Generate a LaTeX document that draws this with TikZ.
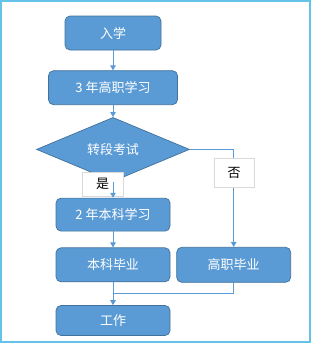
\documentclass[tikz,border=0pt]{standalone}
\usepackage{fontspec}
\newfontfamily\cjk{Noto Sans CJK SC}
\usetikzlibrary{arrows.meta,positioning,calc,shapes.geometric}
\definecolor{boxfill}{HTML}{5B9BD5}
\definecolor{boxedge}{HTML}{41719C}
\definecolor{framec}{RGB}{100,195,230}
\begin{document}
\begin{tikzpicture}[x=1pt,y=1pt,
      font=\cjk\fontsize{13}{15}\selectfont,
      blk/.style={draw=boxedge,fill=boxfill,text=white,rounded corners=5pt,line width=0.7pt,
        minimum width=114pt,minimum height=34pt,inner sep=1pt},
      exam/.style={diamond,draw=boxedge,fill=boxfill,text=white,line width=0.7pt,
        minimum width=153pt,minimum height=64pt,inner sep=0pt,aspect=2.4},
      tag/.style={draw=gray!30,fill=white,text=black,line width=0.6pt,inner sep=0pt},
      link/.style={draw=boxfill,line width=1pt},
      flow/.style={link,-{Triangle[length=5pt,width=5.5pt]}}]
    \useasboundingbox (0,0) rectangle (312,-346);
    \draw[framec,line width=1.3pt] (1,-1) rectangle (310,-342);
    \node[blk,minimum width=96pt] (enrol) at (113,-33) {入学};
    \node[blk,minimum width=129pt,below=20pt of enrol] (hvstudy) {3 年高职学习};
    \node[exam,below=12pt of hvstudy] (transfer) {转段考试};
    \node[tag,minimum width=41pt,minimum height=24pt] (yes) at (102.5,-184) {是};
    \node[blk,minimum height=33pt,below=16pt of transfer] (ugstudy) {2 年本科学习};
    \node[blk,below=16pt of ugstudy] (uggrad) {本科毕业};
    \node[blk,minimum height=35pt,right=6pt of uggrad] (hvgrad) {高职毕业};
    \node[blk,minimum height=30pt,below=23pt of uggrad] (work) {工作};
    \draw[flow] (enrol) -- (hvstudy);
    \draw[flow] (hvstudy) -- (transfer);
    \draw[flow] (transfer) -- (ugstudy);
    \draw[flow] (ugstudy) -- (uggrad);
    \draw[flow] (transfer.east) -| (hvgrad.north);
    \node[tag,minimum width=40pt,minimum height=29pt] (no) at (234,-172.5) {否};
    \draw[flow] (uggrad) -- (work);
    \draw[link] (hvgrad.south) |- ($(uggrad.south)!.5!(work.north)$);
  \end{tikzpicture}
\end{document}
